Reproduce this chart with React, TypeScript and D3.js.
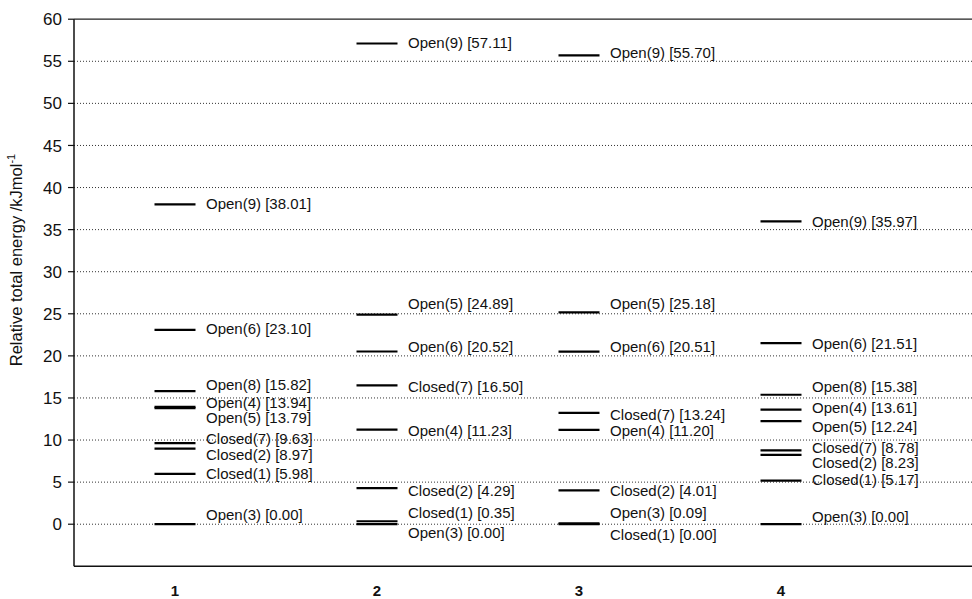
import React from 'react';
import * as d3 from 'd3';

const categories = ['1', '2', '3', '4'];
const yTicks = [0, 5, 10, 15, 20, 25, 30, 35, 40, 45, 50, 55, 60];

// Category 1
const names1 = ['Open(9)', 'Open(6)', 'Open(8)', 'Open(4)', 'Open(5)', 'Closed(7)', 'Closed(2)', 'Closed(1)', 'Open(3)'];
const values1 = [38.01, 23.10, 15.82, 13.94, 13.79, 9.63, 8.97, 5.98, 0.00];
const labelAt1 = [38.01, 23.10, 16.5, 14.4, 12.6, 10.1, 8.2, 5.85, 1.05];

// Category 2
const names2 = ['Open(9)', 'Open(5)', 'Open(6)', 'Closed(7)', 'Open(4)', 'Closed(2)', 'Closed(1)', 'Open(3)'];
const values2 = [57.11, 24.89, 20.52, 16.50, 11.23, 4.29, 0.35, 0.00];
const labelAt2 = [57.15, 26.1, 21.0, 16.3, 11.05, 3.85, 1.3, -1.05];

// Category 3
const names3 = ['Open(9)', 'Open(5)', 'Open(6)', 'Closed(7)', 'Open(4)', 'Closed(2)', 'Open(3)', 'Closed(1)'];
const values3 = [55.70, 25.18, 20.51, 13.24, 11.20, 4.01, 0.09, 0.00];
const labelAt3 = [55.95, 26.05, 21.0, 12.97, 10.96, 3.83, 1.33, -1.3];

// Category 4
const names4 = ['Open(9)', 'Open(6)', 'Open(8)', 'Open(4)', 'Open(5)', 'Closed(7)', 'Closed(2)', 'Closed(1)', 'Open(3)'];
const values4 = [35.97, 21.51, 15.38, 13.61, 12.24, 8.78, 8.23, 5.17, 0.00];
const labelAt4 = [35.9, 21.4, 16.2, 13.8, 11.5, 9.0, 7.2, 5.25, 0.85];

const seriesNames = [names1, names2, names3, names4];
const seriesValues = [values1, values2, values3, values4];
const seriesLabelAt = [labelAt1, labelAt2, labelAt3, labelAt4];

const W = 972;
const H = 599;
const left = 74;
const right = 972;
const top = 19.2;
const bottom = 566.3;

export default function App() {
  const y = d3.scaleLinear().domain([-5, 60]).range([bottom, top]);
  const x = d3.scaleBand<string>().domain(categories).range([left, 882]).padding(0);
  const bw = x.bandwidth();
  const half = 20.5;
  const font = 'Arial, "Liberation Sans", Helvetica, sans-serif';

  return (
    <svg width={W} height={H} style={{ position: 'absolute', left: 0, top: 0, background: '#fff' }} fontFamily={font}>
      <rect x={0} y={0} width={W} height={H} fill="#fff" />
      {/* gridlines */}
      {yTicks.filter(t => t !== 60).map(t => (
        <line key={'g' + t} x1={left} x2={right} y1={y(t)} y2={y(t)} stroke="#333" strokeWidth={1} strokeDasharray="1,2" />
      ))}
      {/* top border */}
      <line x1={left} x2={right} y1={y(60)} y2={y(60)} stroke="#222" strokeWidth={1.3} />
      {/* axes */}
      <line x1={left} x2={left} y1={y(60)} y2={y(-5)} stroke="#111" strokeWidth={1.5} />
      <line x1={left} x2={right} y1={y(-5)} y2={y(-5)} stroke="#111" strokeWidth={1.5} />
      {yTicks.map(t => (
        <g key={'t' + t}>
          <line x1={left - 6} x2={left} y1={y(t)} y2={y(t)} stroke="#111" strokeWidth={1.2} />
          <text x={62} y={y(t)} dy="0.36em" textAnchor="end" fontSize={17} fill="#111">{t}</text>
        </g>
      ))}
      {/* y axis title */}
      <text transform={`translate(22,260) rotate(-90)`} textAnchor="middle" fontSize={16.5} fill="#111">
        Relative total energy /kJmol<tspan fontSize={11} dy="-7">-1</tspan>
      </text>
      {/* category labels */}
      {categories.map(c => (
        <text key={'c' + c} x={(x(c) as number) + bw / 2} y={591} dy="0.36em" textAnchor="middle" fontSize={15} fontWeight="bold" fill="#111">{c}</text>
      ))}
      {/* energy levels */}
      {categories.map((c, ci) => {
        const cx = (x(c) as number) + bw / 2;
        return (
          <g key={'s' + c}>
            {seriesValues[ci].map((v, i) => (
              <line key={'l' + i} x1={cx - half} x2={cx + half} y1={y(v)} y2={y(v)} stroke="#000" strokeWidth={2.2} />
            ))}
            {seriesValues[ci].map((v, i) => (
              <text key={'t' + i} x={cx + 31} y={y(seriesLabelAt[ci][i])} dy="0.3em" fontSize={15} fill="#111">
                {`${seriesNames[ci][i]} [${v.toFixed(2)}]`}
              </text>
            ))}
          </g>
        );
      })}
    </svg>
  );
}
